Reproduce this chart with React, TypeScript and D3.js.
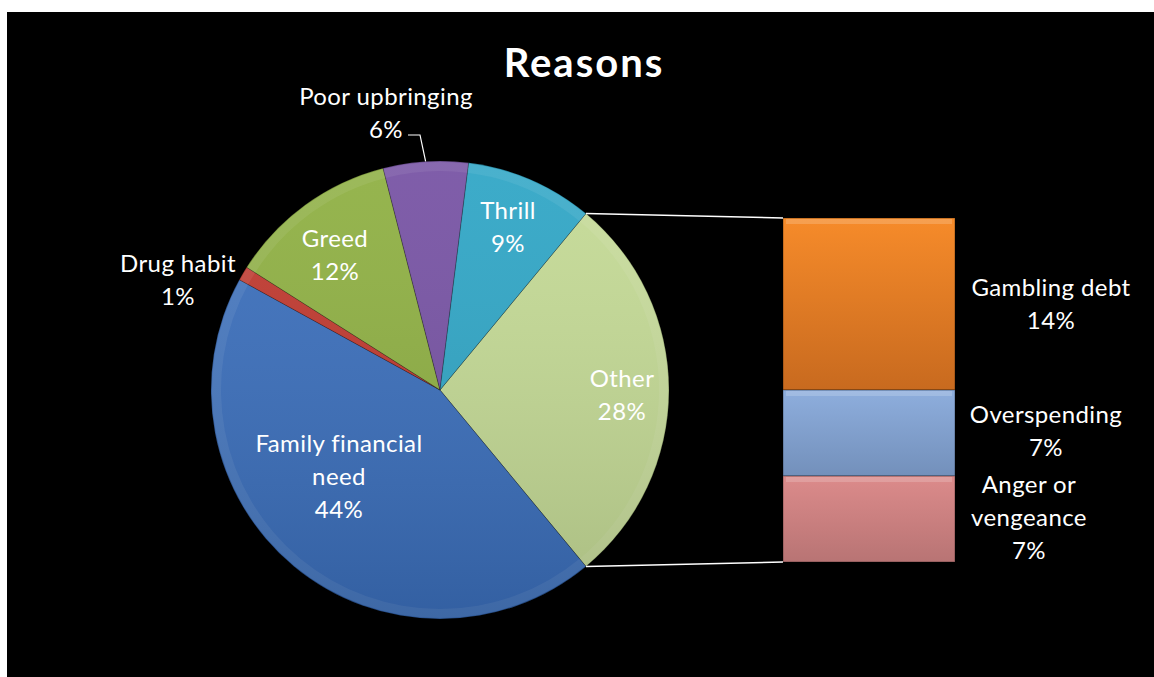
import React from "react";
import * as d3 from "d3";

const pieCategories = ["Other", "Family financial need", "Drug habit", "Greed", "Poor upbringing", "Thrill"];
const pieValues = [28, 44, 1, 12, 6, 9];
const pieColors = ["#c4da95", "#3b6fbc", "#c0392f", "#8fb043", "#7753a4", "#30a6c6"];

const barCategories = ["Gambling debt", "Overspending", "Anger or vengeance"];
const barValues = [14, 7, 7];
const barColors = ["#f68b2a", "#8eaedd", "#dc8b8b"];
const barColorsDark = ["#c86a1f", "#7390bb", "#b87474"];

const W = 1154;
const H = 677;

// label lines and placements (text layout only)
const pieLabelLines = [
  ["Other", "28%"],
  ["Family financial", "need", "44%"],
  ["Drug habit", "1%"],
  ["Greed", "12%"],
  ["Poor upbringing", "6%"],
  ["Thrill", "9%"],
];
const pieLabelPos: [number, number][] = [
  [622, 387],
  [339, 452],
  [178, 272],
  [335, 247],
  [386, 105],
  [508, 219],
];
const barLabelLines = [
  ["Gambling debt", "14%"],
  ["Overspending", "7%"],
  ["Anger or", "vengeance", "7%"],
];
const barLabelPos: [number, number][] = [
  [1051, 296],
  [1046, 423],
  [1029, 493],
];

export default function App() {
  const cx = 440;
  const cy = 390;
  const R = 229;
  const total = d3.sum(pieValues);
  const start = Math.PI / 2 - (pieValues[0] / total) * Math.PI;
  const pie = d3
    .pie<number>()
    .sort(null)
    .value((d) => d)
    .startAngle(start)
    .endAngle(start + 2 * Math.PI);
  const arcs = pie(pieValues);
  const arc = d3.arc<d3.PieArcDatum<number>>().innerRadius(0).outerRadius(R);
  const rim = d3.arc<d3.PieArcDatum<number>>().innerRadius(R - 10).outerRadius(R - 1);

  const barX0 = 783;
  const barX1 = 955;
  const y = d3.scaleLinear().domain([0, d3.sum(barValues)]).range([218, 562]);
  let acc = 0;
  const bars = barValues.map((v, i) => {
    const b = { y0: y(acc), y1: y(acc + v), i };
    acc += v;
    return b;
  });

  const pt = (a: number) => [cx + R * Math.sin(a), cy - R * Math.cos(a)];
  const pTop = pt(arcs[0].startAngle);
  const pBot = pt(arcs[0].endAngle);

  const leaderA = (arcs[4].startAngle + arcs[4].endAngle) / 2;
  const lp = pt(leaderA);

  const font = "Lato, 'Open Sans', sans-serif";
  const fs = 24;
  const ls = 0.4;
  const lh = 33;

  return (
    <svg width={W} height={H} style={{ display: "block", position: "absolute", left: 0, top: 0 }}>
      <defs>
        <linearGradient id="pieShade" x1="0" y1="0" x2="0" y2="1">
          <stop offset="0" stopColor="#fff" stopOpacity={0.06} />
          <stop offset="1" stopColor="#000" stopOpacity={0.14} />
        </linearGradient>
        {barColors.map((c, i) => (
          <linearGradient key={i} id={`bar${i}`} x1="0" y1="0" x2="0" y2="1">
            <stop offset="0" stopColor={c} />
            <stop offset="1" stopColor={barColorsDark[i]} />
          </linearGradient>
        ))}
      </defs>
      <rect x={0} y={0} width={W} height={H} fill="#fff" />
      <rect x={7} y={12} width={W - 7} height={H - 12} fill="#000" />

      <text x={584} y={77} textAnchor="middle" fill="#fff" fontFamily={font} fontWeight="bold" fontSize={40} letterSpacing={2}>
        Reasons
      </text>

      <g transform={`translate(${cx},${cy})`}>
        {arcs.map((a, i) => (
          <path key={i} d={arc(a) || ""} fill={pieColors[i]} stroke="rgba(0,0,0,0.25)" strokeWidth={1} />
        ))}
        {arcs.map((a, i) => (
          <path key={"r" + i} d={rim(a) || ""} fill="#fff" opacity={0.07} />
        ))}
        <circle r={R} fill="url(#pieShade)" />
      </g>

      {bars.map((b) => (
        <g key={b.i}>
          <rect x={barX0} y={b.y0} width={barX1 - barX0} height={b.y1 - b.y0} fill={`url(#bar${b.i})`} stroke="rgba(0,0,0,0.35)" strokeWidth={1} />
          <rect x={barX0 + 3} y={b.y0 + 1} width={barX1 - barX0 - 6} height={5} fill="#fff" opacity={0.18} />
        </g>
      ))}

      <line x1={pTop[0]} y1={pTop[1]} x2={barX0} y2={y(0)} stroke="#fff" strokeWidth={1.5} />
      <line x1={pBot[0]} y1={pBot[1]} x2={barX0} y2={y(d3.sum(barValues))} stroke="#fff" strokeWidth={1.5} />

      <polyline points={`408,135 420,135 ${lp[0]},${lp[1]}`} fill="none" stroke="#fff" strokeWidth={1.2} />

      {pieLabelLines.map((lines, i) => (
        <text key={i} x={pieLabelPos[i][0]} y={pieLabelPos[i][1]} textAnchor="middle" fill="#fff" fontFamily={font} fontSize={fs} letterSpacing={ls}>
          {lines.map((l, j) => (
            <tspan key={j} x={pieLabelPos[i][0]} dy={j === 0 ? 0 : lh}>
              {l}
            </tspan>
          ))}
        </text>
      ))}
      {barLabelLines.map((lines, i) => (
        <text key={i} x={barLabelPos[i][0]} y={barLabelPos[i][1]} textAnchor="middle" fill="#fff" fontFamily={font} fontSize={fs} letterSpacing={ls}>
          {lines.map((l, j) => (
            <tspan key={j} x={barLabelPos[i][0]} dy={j === 0 ? 0 : lh}>
              {l}
            </tspan>
          ))}
        </text>
      ))}
    </svg>
  );
}
